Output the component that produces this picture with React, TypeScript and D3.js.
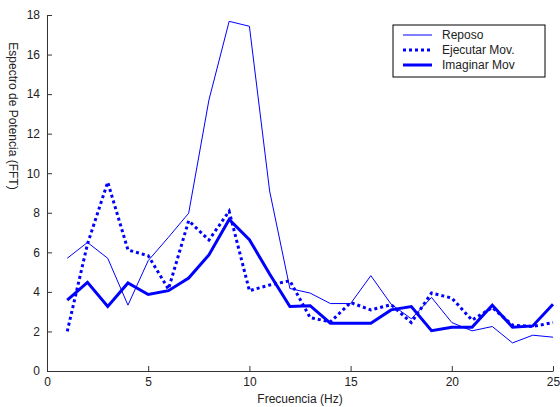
import React, { useRef, useEffect } from "react";
import * as d3 from "d3";

const freq = d3.range(1, 26);
const reposo = [5.7, 6.5, 5.7, 3.33, 5.58, 6.76, 7.98, 13.7, 17.68, 17.43, 9.1, 4.17, 3.94, 3.41, 3.41, 4.82, 3.38, 2.64, 3.72, 2.45, 2.03, 2.25, 1.42, 1.81, 1.71];
const ejecutar = [2.0, 6.42, 9.55, 6.12, 5.83, 4.14, 7.6, 6.62, 8.08, 4.06, 4.35, 4.56, 2.7, 2.48, 3.46, 3.09, 3.35, 2.45, 3.94, 3.69, 2.57, 3.21, 2.32, 2.25, 2.45];
const imaginar = [3.58, 4.48, 3.26, 4.45, 3.87, 4.06, 4.7, 5.87, 7.66, 6.64, 4.9, 3.26, 3.3, 2.42, 2.42, 2.42, 3.09, 3.26, 2.04, 2.21, 2.21, 3.33, 2.21, 2.28, 3.38];
const xTicks = [0, 5, 10, 15, 20, 25];
const yTicks = [0, 2, 4, 6, 8, 10, 12, 14, 16, 18];

const seriesList = [
	{ name: "Reposo", values: reposo, width: 1, dash: null },
	{ name: "Ejecutar Mov.", values: ejecutar, width: 3, dash: "3,3" },
	{ name: "Imaginar Mov", values: imaginar, width: 3, dash: null },
];

const Chart = () => {
	const chartRef = useRef<SVGSVGElement>(null);

	useEffect(() => {
		const width = 560;
		const height = 407;
		const margin = { top: 15, right: 7, bottom: 36, left: 47 };
		const font = "'Liberation Sans', Arial, sans-serif";

		const svg = d3.select(chartRef.current);
		svg.selectAll("*").remove();

		const x = d3.scaleLinear().domain([0, 25]).range([margin.left, width - margin.right]);
		const y = d3.scaleLinear().domain([0, 18]).range([height - margin.bottom, margin.top]);

		// axes
		const gx = svg
			.append("g")
			.attr("transform", `translate(0,${height - margin.bottom})`)
			.call(d3.axisBottom(x).tickValues(xTicks).tickSize(-5).tickSizeOuter(0).tickPadding(6));
		const gy = svg
			.append("g")
			.attr("transform", `translate(${margin.left},0)`)
			.call(d3.axisLeft(y).tickValues(yTicks).tickSize(-5).tickSizeOuter(0).tickPadding(7));

		[gx, gy].forEach(g => {
			g.selectAll(".domain").attr("stroke", "#333");
			g.selectAll(".tick line").attr("stroke", "#333");
			g.selectAll(".tick text").attr("font-family", font).attr("font-size", 12).attr("fill", "#222");
		});

		// axis labels
		svg
			.append("text")
			.attr("x", (margin.left + width - margin.right) / 2)
			.attr("y", 403)
			.attr("text-anchor", "middle")
			.attr("font-family", font)
			.attr("font-size", 12)
			.attr("fill", "#222")
			.text("Frecuencia (Hz)");

		svg
			.append("text")
			.attr("transform", `translate(9,116) rotate(90)`)
			.attr("text-anchor", "middle")
			.attr("font-family", font)
			.attr("font-size", 12)
			.attr("fill", "#222")
			.text("Espectro de Potencia (FFT)");

		// lines
		const line = d3
			.line<number>()
			.x((d, i) => x(freq[i]))
			.y(d => y(d));

		seriesList.forEach(s => {
			svg
				.append("path")
				.datum(s.values)
				.attr("d", line)
				.attr("fill", "none")
				.attr("stroke", "#0000ff")
				.attr("stroke-width", s.width)
				.attr("stroke-linejoin", "miter")
				.attr("stroke-dasharray", s.dash);
		});

		// legend
		const lg = svg.append("g").attr("transform", "translate(393,25)");
		lg.append("rect")
			.attr("width", 152)
			.attr("height", 52)
			.attr("fill", "white")
			.attr("stroke", "black")
			.attr("stroke-width", 1);

		seriesList.forEach((s, i) => {
			const ly = 10 + i * 15;
			lg.append("line")
				.attr("x1", 10)
				.attr("x2", 39)
				.attr("y1", ly)
				.attr("y2", ly)
				.attr("stroke", "#0000ff")
				.attr("stroke-width", s.width)
				.attr("stroke-dasharray", s.dash);
			lg.append("text")
				.attr("x", 49)
				.attr("y", ly)
				.attr("dy", "0.35em")
				.attr("font-family", font)
				.attr("font-size", 12)
				.attr("fill", "#222")
				.text(s.name);
		});
	}, []);

	return <svg ref={chartRef} width={560} height={407} style={{ display: "block" }}></svg>;
};

export default function App() {
	return (
		<div style={{ position: "absolute", left: 0, top: 0 }}>
			<Chart />
		</div>
	);
}
